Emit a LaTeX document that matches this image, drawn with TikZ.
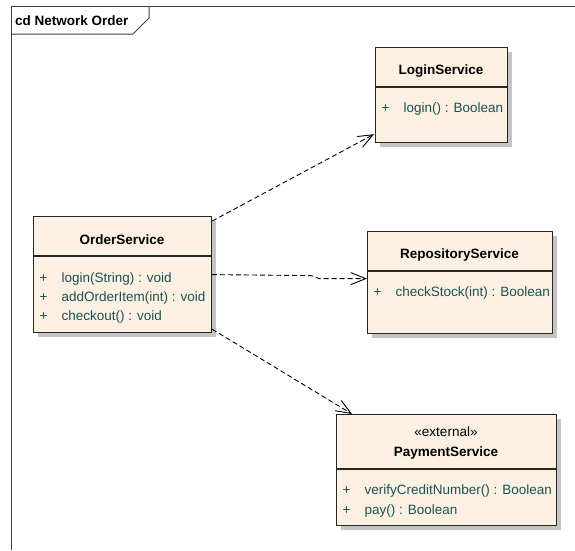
\documentclass[tikz,border=0pt]{standalone}
\usepackage{fontspec}
\setmainfont{Liberation Sans}
\usetikzlibrary{arrows.meta,shadows}

\definecolor{classfill}{RGB}{251,240,226}
\definecolor{opteal}{RGB}{28,82,82}
\definecolor{shadowgray}{RGB}{196,196,196}

\tikzset{
  classbox/.style={draw=black!85, line width=1.2pt, fill=classfill, anchor=north west, inner sep=0pt,
    drop shadow={shadow xshift=4pt, shadow yshift=-4pt, fill=shadowgray, opacity=1}},
  classname/.style={font=\bfseries\fontsize{13.5}{16}\selectfont, anchor=base, inner sep=0pt},
  stereo/.style={font=\fontsize{13.5}{16}\selectfont, anchor=base, inner sep=0pt},
  oper/.style={font=\fontsize{13.5}{16}\selectfont, text=opteal, anchor=base west, inner sep=0pt},
  sepline/.style={draw=black!85, line width=1.2pt},
  dep/.style={line width=0.9pt, dash pattern=on 5pt off 3pt, -{Straight Barb[length=15pt,width=12pt]}},
}
\newcommand{\op}[1]{\makebox[22pt][l]{+}#1}

\begin{document}
\begin{tikzpicture}[x=1pt, y=-1pt]
    \useasboundingbox (0,0) rectangle (575,550);

    % Frame
    \draw[black!75, line width=1pt] (11,550) -- (11,6) -- (575,6);
    \draw[black!75, line width=1pt] (11,34) -- (133,34) -- (149,18) -- (149,6);
    \node[font=\bfseries\fontsize{13.5}{16}\selectfont, anchor=base west, inner sep=0pt] (frametitle) at (15,25) {cd Network Order};

    % OrderService
    \node[classbox, minimum width=178pt, minimum height=116pt] (order) at (33,216) {};
    \node[classname] (ordername) at (122,244) {OrderService};
    \draw[sepline] (33,256) -- (211,256);
    \node[oper] (orderop1) at (39.5,282) {\op{login(String) : void}};
    \node[oper] (orderop2) at (39.5,301) {\op{addOrderItem(int) : void}};
    \node[oper] (orderop3) at (39.5,320) {\op{checkout() : void}};

    % LoginService
    \node[classbox, minimum width=132pt, minimum height=95pt] (login) at (375,47) {};
    \node[classname] (loginname) at (441,74) {LoginService};
    \draw[sepline] (375,87) -- (507,87);
    \node[oper] (loginop1) at (381.5,112.5) {\op{login() : Boolean}};

    % RepositoryService
    \node[classbox, minimum width=185pt, minimum height=102pt] (repo) at (367,231) {};
    \node[classname] (reponame) at (459.5,258) {RepositoryService};
    \draw[sepline] (367,271) -- (552,271);
    \node[oper] (repoop1) at (373.5,296.5) {\op{checkStock(int) : Boolean}};

    % PaymentService
    \node[classbox, minimum width=220pt, minimum height=111pt] (pay) at (336,414) {};
    \node[stereo] (paystereo) at (446,436) {«external»};
    \node[classname] (payname) at (446,456) {PaymentService};
    \draw[sepline] (336,469) -- (556,469);
    \node[oper] (payop1) at (342.5,494) {\op{verifyCreditNumber() : Boolean}};
    \node[oper] (payop2) at (342.5,514) {\op{pay() : Boolean}};

    % Dependencies
    \draw[dep] ([yshift=-5pt]order.north east) -- ([xshift=-1pt, yshift=9pt]login.south west);
    \draw[dep] (order.east) -- ++(99,1) -- ++(8,3) -- ([yshift=4pt]repo.west);
    \draw[dep] ([yshift=4pt]order.south east) -- ([xshift=16pt]pay.north west);
\end{tikzpicture}
\end{document}
